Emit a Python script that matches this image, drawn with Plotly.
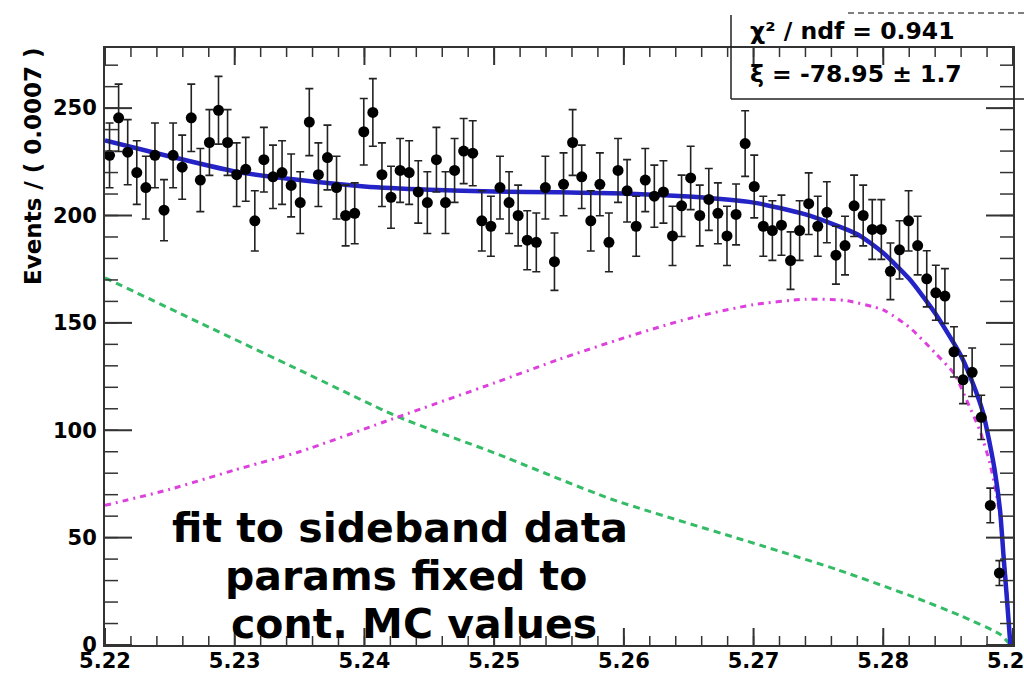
import numpy as np
import plotly.graph_objects as go

# ---------------- data ----------------
bin_low = 5.22
bin_width = 0.0007
counts = [228, 245.5, 229.5, 220, 213, 228, 202.5, 228, 222.5, 245.5,
          216.5, 234, 249, 234, 219, 221.5, 197.5, 226, 218, 220,
          214, 206, 243.5, 219, 227, 213, 200, 201, 239, 248,
          219, 208.5, 221, 220, 211, 206, 226, 206, 221, 230,
          229, 197.5, 195, 213, 206, 200, 188.5, 187.5, 213, 178.5,
          214.5, 234, 218, 197.5, 214.5, 187.5, 221, 211.5, 195, 216.5,
          209, 211, 190.5, 204.5, 217.5, 200, 207.5, 201, 190.5, 200.5,
          233.5, 213.5, 195, 193, 195.5, 179, 193, 205.5, 195, 201.5,
          181.5, 186, 204.5, 200, 193.5, 193.5, 174, 184, 197.5, 186,
          170.5, 164, 162.5, 136.5, 123.5, 127, 106, 65, 33.5]
bin_centers = [round(bin_low + bin_width * (i + 0.5), 5) for i in range(len(counts))]
errors = [float(np.sqrt(c)) for c in counts]

# total fit (blue)
fit_x = [5.2200, 5.2250, 5.2300, 5.2350, 5.2400, 5.2450, 5.2500, 5.2550, 5.2600, 5.2650,
         5.2700, 5.2740, 5.2780, 5.2800, 5.2820, 5.2840, 5.2860, 5.2870, 5.2877, 5.2882,
         5.2886, 5.2890, 5.2893, 5.2895, 5.2898]
fit_y = [235, 227.5, 220.5, 216.5, 213.5, 212, 211.2, 210.8, 210.3, 208.8,
         206, 200.5, 191.3, 182.5, 170.5, 154.5, 134.6, 120.4, 108, 94,
         81, 62.8, 39, 24, 0]

# green dashed component
green_x = [5.2200, 5.2275, 5.2350, 5.2425, 5.2500, 5.2590, 5.2705, 5.2765, 5.2825, 5.2860, 5.2890, 5.2898]
green_y = [171, 149.5, 128, 106.5, 89.5, 68, 46.5, 35, 22, 13.5, 5, 0]

# magenta dash-dot component
mag_x = [5.2200, 5.2250, 5.2300, 5.2350, 5.2425, 5.2500, 5.2550, 5.2600, 5.2650, 5.2700,
         5.2740, 5.2770, 5.2800, 5.2820, 5.2840, 5.2855, 5.2865, 5.2875, 5.2882, 5.2887,
         5.2890, 5.2894, 5.2898]
mag_y = [65, 72.5, 81.5, 90, 106, 122, 133, 143, 152, 158.5,
         161, 160.5, 156, 148, 136, 126, 113, 99, 85, 71,
         60, 35, 0]

x_major_ticks = [5.22, 5.23, 5.24, 5.25, 5.26, 5.27, 5.28, 5.29]
y_major_ticks = [0, 50, 100, 150, 200, 250]
x_minor_step = 0.002
y_minor_step = 10

stats_lines = ["χ² / ndf = 0.941", "ξ = -78.95 ± 1.7"]
note_lines = ["fit to sideband data", "params fixed to", "cont. MC values"]
y_title = "Events / ( 0.0007 )"

# ---------------- figure ----------------
FONT = "DejaVu Sans"
AXC = "#333333"
X_RANGE = [5.2199999, 5.2900001]
Y_RANGE = [0, 278]
fig = go.Figure()

fig.add_trace(go.Scatter(x=green_x, y=green_y, mode="lines",
                         line=dict(color="#33bb66", width=3, dash="7px,5px",
                                   shape="spline", smoothing=0.6),
                         hoverinfo="skip", showlegend=False))
fig.add_trace(go.Scatter(x=mag_x, y=mag_y, mode="lines",
                         line=dict(color="#dd40dd", width=3, dash="6px,5px,2px,5px",
                                   shape="spline", smoothing=0.6),
                         hoverinfo="skip", showlegend=False))
fig.add_trace(go.Scatter(x=fit_x, y=fit_y, mode="lines",
                         line=dict(color="#2323c8", width=4.5, shape="spline", smoothing=0.6),
                         hoverinfo="skip", showlegend=False))
fig.add_trace(go.Scatter(x=bin_centers, y=counts, mode="markers",
                         marker=dict(color="black", size=11),
                         error_y=dict(type="data", array=errors, visible=True,
                                      color="#222222", thickness=1.6, width=4),
                         showlegend=False))

L, R, T, B = 105, 11, 48, 29
PW, PH = 1024 - L - R, 674 - T - B
def px(xp):
    return (xp - L) / PW
def py(yp):
    return (674 - B - yp) / PH

tickfont = dict(family=FONT, size=21, color="black", weight="bold")
common = dict(showline=True, linecolor=AXC, linewidth=2, mirror=True,
              showgrid=False, zeroline=False, automargin=False, ticks="")

fig.update_layout(
    xaxis=dict(range=X_RANGE, tickmode="linear", tick0=5.22, dtick=0.01, tickformat=".2f",
               tickfont=tickfont, ticklabeloverflow="allow", ticklabelstandoff=-4, **common),
    yaxis=dict(range=Y_RANGE, tickmode="linear", tick0=0, dtick=50,
               tickfont=tickfont, ticklabelstandoff=2, **common),
)

annotations = []
annotations.append(dict(x=px(33), y=py(166), xref="paper", yref="paper",
                        text=y_title, textangle=-90, showarrow=False,
                        xanchor="center", yanchor="middle",
                        font=dict(family=FONT, size=23, color="black", weight="bold")))
for t, yc in zip(stats_lines, [31, 74]):
    annotations.append(dict(x=px(748), y=py(yc), xref="paper", yref="paper",
                            text=t, showarrow=False, xanchor="left", yanchor="middle",
                            font=dict(family=FONT, size=23.5, color="black", weight="bold")))
for t, xc, yc in zip(note_lines, [400, 406, 414], [528, 576, 624]):
    annotations.append(dict(x=px(xc), y=py(yc), xref="paper", yref="paper",
                            text=t, showarrow=False, xanchor="center", yanchor="middle",
                            font=dict(family=FONT, size=41, color="black", weight="bold")))

shapes = [
    dict(type="line", xref="paper", yref="paper", x0=px(731), x1=px(731), y0=py(15), y1=py(99),
         line=dict(color="#222222", width=1.5)),
    dict(type="line", xref="paper", yref="paper", x0=px(731), x1=px(1024), y0=py(99), y1=py(99),
         line=dict(color="#222222", width=1.5)),
    dict(type="line", xref="paper", yref="paper", x0=px(848), x1=px(1024), y0=py(13), y1=py(13),
         line=dict(color="#555555", width=1.5, dash="6px,4px")),
]

# inside tick marks on all four sides (lengths in pixels, converted to paper units)
x_minor_ticks = [round(v, 4) for v in np.arange(5.22, 5.29 + 1e-9, x_minor_step)]
y_minor_ticks = [int(v) for v in np.arange(0, 278, y_minor_step)]
for ticks_list, tlen, tw in [(x_minor_ticks, 9, 1.5), (x_major_ticks, 17, 2)]:
    for v in ticks_list:
        shapes.append(dict(type="line", xref="x", x0=v, x1=v, yref="paper",
                           y0=0, y1=tlen / PH, line=dict(color=AXC, width=tw), layer="above"))
        shapes.append(dict(type="line", xref="x", x0=v, x1=v, yref="paper",
                           y0=1, y1=1 - tlen / PH, line=dict(color=AXC, width=tw), layer="above"))
for ticks_list, tlen, tw in [(y_minor_ticks, 13, 1.5), (y_major_ticks, 27, 2)]:
    for v in ticks_list:
        shapes.append(dict(type="line", yref="y", y0=v, y1=v, xref="paper",
                           x0=0, x1=tlen / PW, line=dict(color=AXC, width=tw), layer="above"))
        shapes.append(dict(type="line", yref="y", y0=v, y1=v, xref="paper",
                           x0=1, x1=1 - tlen / PW, line=dict(color=AXC, width=tw), layer="above"))

fig.update_layout(width=1024, height=674, margin=dict(l=L, r=R, t=T, b=B),
                  paper_bgcolor="white", plot_bgcolor="white",
                  annotations=annotations, shapes=shapes, showlegend=False,
                  font=dict(family=FONT, color="black"))

fig.write_html("out.html")
